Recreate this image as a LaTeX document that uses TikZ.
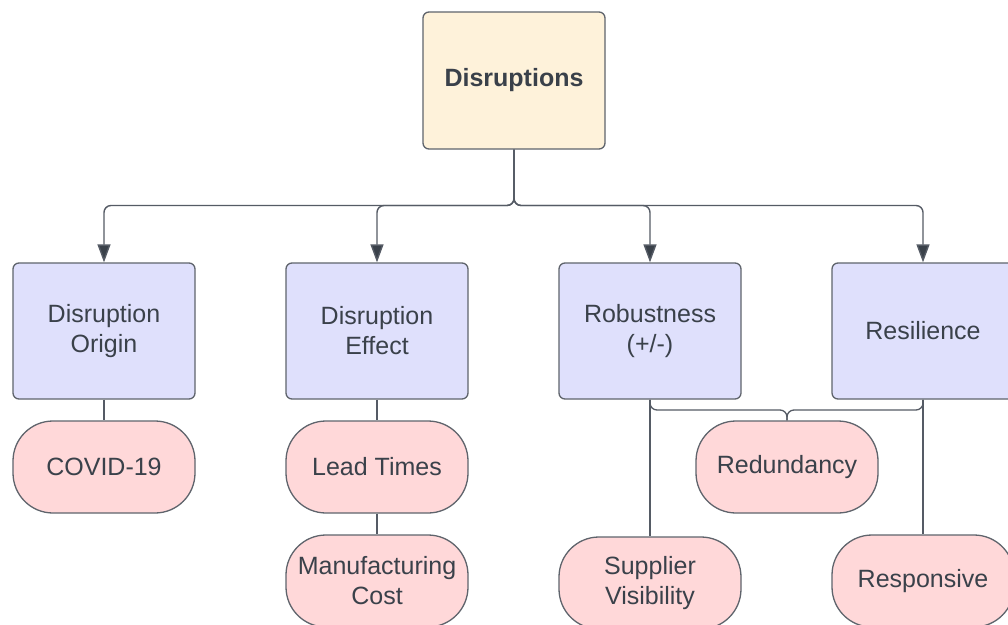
\documentclass[tikz,border=0pt]{standalone}
\usepackage{fontspec}
\setmainfont{Liberation Sans}
\usetikzlibrary{arrows.meta}
\definecolor{ink}{HTML}{3A414A}
\definecolor{edge}{HTML}{5F646C}
\definecolor{wire}{HTML}{555B65}
\definecolor{creamfill}{HTML}{FEF2DA}
\definecolor{lavfill}{HTML}{DFE0FC}
\definecolor{pinkfill}{HTML}{FFD8D9}
\tikzset{
  basebox/.style={draw=edge, line width=1.3pt, text=ink, inner sep=0pt,
    minimum width=182pt, align=center,
    font=\fontsize{25}{30}\selectfont},
  rootbox/.style={basebox, fill=creamfill, minimum height=137pt,
    rounded corners=6pt, font=\fontsize{25}{30}\selectfont\bfseries},
  topicbox/.style={basebox, fill=lavfill, minimum height=136pt, rounded corners=6pt},
  leafbox/.style={basebox, fill=pinkfill, minimum height=92pt, rounded corners=40pt},
  branch/.style={draw=wire, line width=1.4pt, rounded corners=7pt,
    -{Triangle[length=18pt,width=13pt,fill=ink]}},
  link/.style={draw=wire, line width=1.3pt, rounded corners=7pt}
}
\begin{document}
\begin{tikzpicture}[x=1pt,y=-1pt]
\useasboundingbox (0,0) rectangle (1008,624);
\clip (0,0) rectangle (1008,624);
\fill[white] (0,0) rectangle (1008,624);

% root
\node[rootbox] (root) at (514,80.5) {Disruptions};

% second level
\node[topicbox] (origin) at (104,331) {Disruption\\Origin};
\node[topicbox] (effect) at (377,331) {Disruption\\Effect};
\node[topicbox] (robust) at (650,331) {Robustness\\(+/-)};
\node[topicbox] (resil)  at (923,331) {Resilience};

% leaves
\node[leafbox] (covid)  at (104,467) {COVID-19};
\node[leafbox] (lead)   at (377,467) {Lead Times};
\node[leafbox] (manuf)  at (377,581) {Manufacturing\\Cost};
\node[leafbox] (redund) at (787,467) {Redundancy};
\node[leafbox] (suppl)  at (650,583) {Supplier\\Visibility};
\node[leafbox] (resp)   at (923,581) {Responsive};

% branches from the root
\coordinate (rail) at (514,205.5);
\foreach \t in {origin,effect,robust,resil}
  \draw[branch] (root.south) -- (rail) -| (\t.north);

% plain links to the leaves
\draw[link] (origin.south) -- (covid.north);
\draw[link] (effect.south) -- (lead.north);
\draw[link] (lead.south) -- (manuf.north);
\draw[link] (robust.south) -- (suppl.north);
\draw[link] (resil.south) -- (resp.north);
\coordinate (join) at (787,410);
\draw[link] (robust.south) |- (join) -- (redund.north);
\draw[link] (resil.south) |- (join) -- (redund.north);
\end{tikzpicture}
\end{document}
